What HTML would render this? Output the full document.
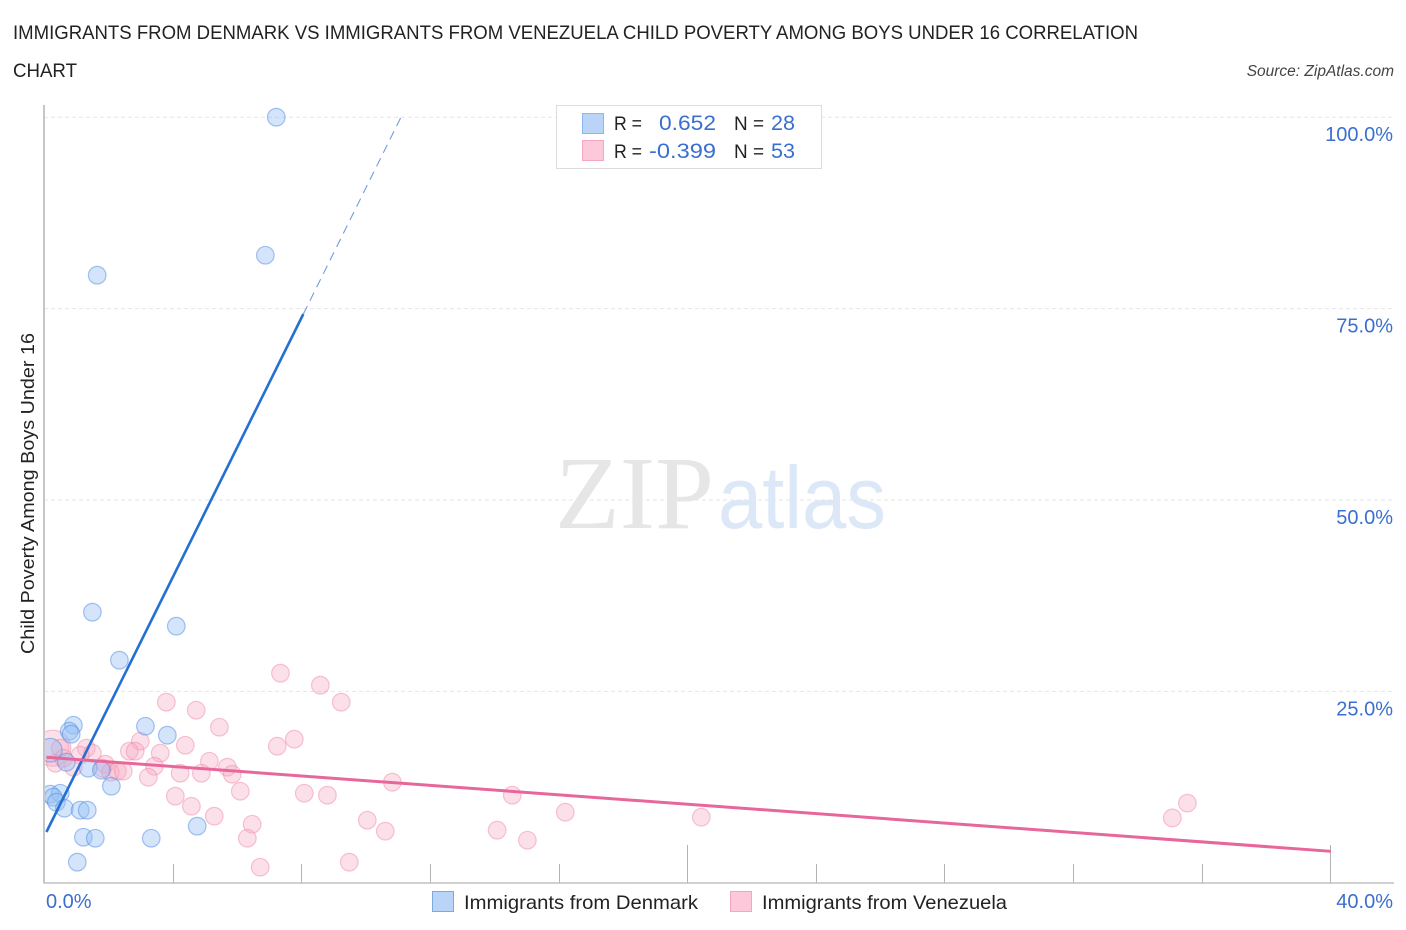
<!DOCTYPE html>
<html>
<head>
<meta charset="utf-8">
<title>Immigrants from Denmark vs Immigrants from Venezuela Child Poverty Among Boys Under 16 Correlation Chart</title>
<style>
html,body{margin:0;padding:0;background:#fff;}
svg{display:block;font-family:"Liberation Sans",sans-serif;}
.blue{fill:#3b6fcf;}
.dark{fill:#222;}
</style>
</head>
<body>
<svg id="chart" width="1406" height="930" viewBox="0 0 1406 930" xmlns="http://www.w3.org/2000/svg">
<defs><clipPath id="plot-clip"><rect x="45" y="100" width="1349" height="782"/></clipPath></defs>
<rect width="1406" height="930" fill="#fff"/>
<text class="dark" x="13" y="39" font-size="19" textLength="1125" lengthAdjust="spacingAndGlyphs">IMMIGRANTS FROM DENMARK VS IMMIGRANTS FROM VENEZUELA CHILD POVERTY AMONG BOYS UNDER 16 CORRELATION</text>
<text class="dark" x="13" y="77" font-size="19" textLength="64" lengthAdjust="spacingAndGlyphs">CHART</text>
<text x="1394" y="76" font-size="15.5" font-style="italic" fill="#444" text-anchor="end">Source: ZipAtlas.com</text>
<text x="555" y="528" font-family="'Liberation Serif',serif" font-size="104" fill="#e6e6e6" textLength="159" lengthAdjust="spacingAndGlyphs">ZIP</text>
<text x="718" y="528" font-size="88" fill="#dce8f7" textLength="168" lengthAdjust="spacingAndGlyphs">atlas</text>
<g id="grid"></g>
<g id="axes"></g>
<g id="ylabels"></g>
<g id="xlabels"></g>
<text class="dark" transform="translate(34,654) rotate(-90)" font-size="18.5" textLength="321" lengthAdjust="spacingAndGlyphs">Child Poverty Among Boys Under 16</text>
<g id="points" clip-path="url(#plot-clip)"></g>
<g id="trends"></g>
<g>
<rect x="556.5" y="105.5" width="265" height="63" fill="#fff" stroke="#dcdcdc" stroke-width="1"/>
<rect x="582.5" y="113.5" width="21" height="20" fill="#b9d4f7" stroke="#8db6ec"/>
<rect x="582.5" y="140.5" width="21" height="20" fill="#fcc8da" stroke="#f3a7c1"/>
<text class="dark" x="614" y="130" font-size="19.5" textLength="28" lengthAdjust="spacingAndGlyphs">R =</text>
<text class="blue" x="716" y="130" font-size="21" text-anchor="end" textLength="57" lengthAdjust="spacingAndGlyphs">0.652</text>
<text class="dark" x="734" y="130" font-size="19.5" textLength="30" lengthAdjust="spacingAndGlyphs">N =</text>
<text class="blue" x="771" y="130" font-size="21" textLength="24" lengthAdjust="spacingAndGlyphs">28</text>
<text class="dark" x="614" y="158" font-size="19.5" textLength="28" lengthAdjust="spacingAndGlyphs">R =</text>
<text class="blue" x="716" y="158" font-size="21" text-anchor="end" textLength="67" lengthAdjust="spacingAndGlyphs">-0.399</text>
<text class="dark" x="734" y="158" font-size="19.5" textLength="30" lengthAdjust="spacingAndGlyphs">N =</text>
<text class="blue" x="771" y="158" font-size="21" textLength="24" lengthAdjust="spacingAndGlyphs">53</text>
</g>
<g>
<rect x="432.5" y="891.5" width="21" height="20" fill="#b9d4f7" stroke="#7ea9df"/>
<text class="dark" x="464" y="909" font-size="19.5" textLength="234" lengthAdjust="spacingAndGlyphs">Immigrants from Denmark</text>
<rect x="730.5" y="891.5" width="21" height="20" fill="#fcc8da" stroke="#f3a7c1"/>
<text class="dark" x="762" y="909" font-size="19.5" textLength="245" lengthAdjust="spacingAndGlyphs">Immigrants from Venezuela</text>
</g>
</svg>
<script>
const yTickValues = [25, 50, 75, 100];
const yTickLabels = ["25.0%", "50.0%", "75.0%", "100.0%"];
const xTickValues = [4, 8, 12, 16, 20, 24, 28, 32, 36, 40];
const xMajorTicks = [20, 40];
const xEdgeValues = [0, 40];
const xEdgeLabels = ["0.0%", "40.0%"];

const denmarkX = [7.2, 6.86, 1.63, 1.48, 4.09, 2.32, 0.89, 0.76, 0.82, 3.13, 3.81, 0.17, 0.67, 1.35, 1.76, 2.07, 0.17, 0.48, 0.26, 0.36, 0.61, 1.10, 1.32, 1.2, 1.57, 3.31, 4.74, 1.01];
const denmarkY = [100, 81.97, 79.36, 35.34, 33.51, 29.07, 20.57, 19.79, 19.4, 20.44, 19.27, 17.31, 15.74, 14.96, 14.7, 12.61, 11.56, 11.69, 11.17, 10.52, 9.73, 9.47, 9.47, 5.94, 5.81, 5.81, 7.38, 2.68];
const denmarkWeight = [1, 1, 1, 1, 1, 1, 1, 1, 1, 1, 1, 1.8, 1, 1, 1, 1, 1, 1, 1, 1, 1, 1, 1, 1, 1, 1, 1, 1];

const venezuelaX = [7.33, 3.78, 4.71, 5.43, 2.97, 4.37, 7.23, 7.76, 2.63, 2.81, 3.59, 5.12, 5.68, 5.83, 3.41, 4.21, 4.87, 3.22, 6.08, 4.06, 4.56, 5.27, 6.45, 6.3, 6.7, 8.07, 0.25, 0.48, 1.29, 1.48, 1.10, 0.33, 0.89, 1.88, 2.04, 2.26, 2.44, 8.57, 9.22, 8.79, 10.03, 10.59, 9.47, 10.81, 14.54, 14.07, 15.01, 16.19, 20.42, 35.07, 35.54, 0.58, 1.79];
const venezuelaY = [27.37, 23.58, 22.53, 20.31, 18.48, 17.96, 17.83, 18.75, 17.18, 17.18, 16.92, 15.87, 15.09, 14.17, 15.22, 14.3, 14.3, 13.78, 11.95, 11.3, 9.99, 8.69, 7.64, 5.81, 2.02, 11.69, 17.57, 17.57, 17.57, 16.92, 16.66, 15.61, 15.09, 15.48, 14.43, 14.57, 14.57, 25.8, 23.58, 11.43, 8.16, 6.73, 2.68, 13.13, 11.43, 6.86, 5.55, 9.21, 8.56, 8.46, 10.39, 16.26, 14.96];
const venezuelaWeight = [1, 1, 1, 1, 1, 1, 1, 1, 1, 1, 1, 1, 1, 1, 1, 1, 1, 1, 1, 1, 1, 1, 1, 1, 1, 1, 4.2, 1, 1, 1, 1, 1, 1, 1, 1, 1, 1, 1, 1, 1, 1, 1, 1, 1, 1, 1, 1, 1, 1, 1, 1, 1, 1];

const denmarkTrendSolid = [0.05, 8.04];
const denmarkTrendDashed = [8.04, 11.08];
const denmarkIntercept = 6.2;
const denmarkSlope = 8.467;
const venezuelaTrendRange = [0.05, 40];
const venezuelaIntercept = 16.4;
const venezuelaSlope = -0.3075;

const NS = "http://www.w3.org/2000/svg";
const xScale = v => 44.8 + v * 32.15;
const yScale = v => 882.7 - v * 7.655;
function mk(parent, tag, props, text) {
  const el = document.createElementNS(NS, tag);
  for (const k in props) el.setAttribute(k, props[k]);
  if (text !== undefined) el.textContent = text;
  document.getElementById(parent).appendChild(el);
  return el;
}

yTickValues.forEach((v, i) => {
  const g = mk("grid", "line", {x1: 44, x2: 1394, y1: yScale(v), y2: yScale(v), stroke: "#e6e6e6", "stroke-width": 1, "stroke-dasharray": "4 3"});
  
  
  const t = mk("ylabels", "text", {x: 1393, y: yScale(v) + 24, "font-size": 20, "text-anchor": "end", class: "blue"}, yTickLabels[i]);
  
  
});

const yAxis = mk("axes", "line", {x1: 44, x2: 44, y1: 105, y2: 883.5, stroke: "#b4b4b4", "stroke-width": 1.5});


const xAxis = mk("axes", "line", {x1: 44, x2: 1394, y1: 883, y2: 883, stroke: "#c0c0c0", "stroke-width": 1.5});


xTickValues.forEach(v => {
  const px = Math.round(xScale(v) - 0.6) + 0.5;
  const top = xMajorTicks.includes(v) ? 845 : 864;
  const t = mk("axes", "line", {x1: px, x2: px, y1: top, y2: 883, stroke: "#b4b4b4", "stroke-width": 1});
  
  
});
xEdgeValues.forEach((v, i) => {
  const first = i === 0;
  const t = mk("xlabels", "text", {x: first ? 46 : 1393, y: 908, "font-size": 20, "text-anchor": first ? "start" : "end", class: "blue"}, xEdgeLabels[i]);
  
  
});

venezuelaX.forEach((v, i) => {
  const c = mk("points", "circle", {cx: xScale(v), cy: yScale(venezuelaY[i]), r: 8.8 * Math.sqrt(venezuelaWeight[i]), fill: "rgba(248,170,195,0.36)", stroke: "rgba(240,140,170,0.5)", "stroke-width": 1.2});
  
  
});
denmarkX.forEach((v, i) => {
  const c = mk("points", "circle", {cx: xScale(v), cy: yScale(denmarkY[i]), r: 8.8 * Math.sqrt(denmarkWeight[i]), fill: "rgba(150,190,245,0.42)", stroke: "rgba(80,140,225,0.5)", "stroke-width": 1.2});
  
  
});

const denmarkLine = x => denmarkIntercept + denmarkSlope * x;
const venezuelaLine = x => venezuelaIntercept + venezuelaSlope * x;
const solid = mk("trends", "line", {x1: xScale(denmarkTrendSolid[0]), y1: yScale(denmarkLine(denmarkTrendSolid[0])), x2: xScale(denmarkTrendSolid[1]), y2: yScale(denmarkLine(denmarkTrendSolid[1])), stroke: "#2470d2", "stroke-width": 2.6});


const dashed = mk("trends", "line", {x1: xScale(denmarkTrendDashed[0]), y1: yScale(denmarkLine(denmarkTrendDashed[0])), x2: xScale(denmarkTrendDashed[1]), y2: yScale(denmarkLine(denmarkTrendDashed[1])), stroke: "#6f9bdc", "stroke-width": 1.1, "stroke-dasharray": "9 6"});


const pinkLine = mk("trends", "line", {x1: xScale(venezuelaTrendRange[0]), y1: yScale(venezuelaLine(venezuelaTrendRange[0])), x2: xScale(venezuelaTrendRange[1]), y2: yScale(venezuelaLine(venezuelaTrendRange[1])), stroke: "#e8679a", "stroke-width": 3});


</script>
</body>
</html>
